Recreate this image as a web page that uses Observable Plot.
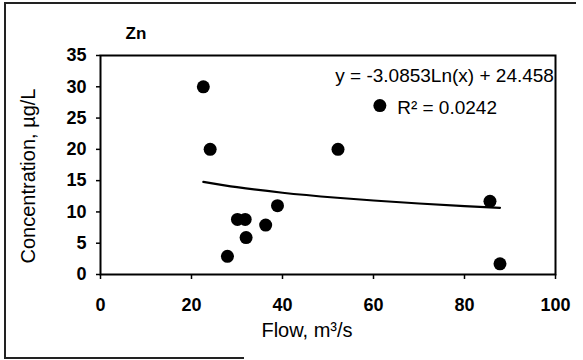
<!DOCTYPE html>
<html>
<head>
<meta charset="utf-8">
<script src="https://cdn.jsdelivr.net/npm/d3@7"></script>
<script src="https://cdn.jsdelivr.net/npm/@observablehq/plot@0.6"></script>
<style>
  html, body { margin: 0; padding: 0; background: #fff; }
  #wrap { position: relative; width: 583px; height: 360px; overflow: hidden; background: #fff; }
  #wrap svg { position: absolute; left: 0; top: 0; }
  .edge { position: absolute; background: #222; }
</style>
</head>
<body>
<div id="wrap">
  <div class="edge" style="left:4px; top:2px; width:572px; height:2px;"></div>
  <div class="edge" style="left:4px; top:2px; width:1.5px; height:356px;"></div>
  <div class="edge" style="left:4px; top:357px; width:240px; height:1.5px;"></div>
</div>
<script>
// Data (Flow in m³/s, Zn concentration in µg/L)
const flow = [22.6, 24.1, 27.9, 30.1, 31.8, 32.0, 36.3, 38.9, 52.2, 61.4, 85.6, 87.8];
const zn   = [30.0, 20.0, 2.9, 8.8, 8.8, 5.9, 7.9, 11.0, 20.0, 27.0, 11.7, 1.7];

// Logarithmic trendline
const trendFlow = [22.6, 30, 40, 52, 60, 70, 80, 87.8];
const trendZn   = [14.8, 13.95, 13.07, 12.27, 11.83, 11.35, 10.94, 10.66];

const xTicks = [0, 20, 40, 60, 80, 100];
const yTicks = [0, 5, 10, 15, 20, 25, 30, 35];

const title = "Zn";
const xLabel = "Flow, m³/s";
const yLabel = "Concentration, µg/L";
const eqText = "y = -3.0853Ln(x) + 24.458";
const r2Text = "R² = 0.0242";

const points = flow.map((f, i) => ({flow: f, zn: zn[i]}));
const trend = trendFlow.map((f, i) => ({flow: f, zn: trendZn[i]}));
const notes = [
  {flow: 51.6, zn: 31.8, text: eqText},
  {flow: 65.2, zn: 26.7, text: r2Text}
];

const font = "'Liberation Sans', Arial, sans-serif";

const chart = Plot.plot({
  width: 583,
  height: 360,
  marginLeft: 100,
  marginRight: 28,
  marginTop: 55,
  marginBottom: 86,
  style: {fontFamily: font, fontSize: "18px", color: "#000", background: "transparent", overflow: "visible"},
  x: {domain: [0, 100]},
  y: {domain: [0, 35]},
  marks: [
    Plot.frame({stroke: "#000", strokeWidth: 2}),
    Plot.axisX(xTicks, {tickSize: 5, tickPadding: 19, fontWeight: "bold", fontSize: 18, label: null, strokeWidth: 1.5}),
    Plot.axisY(yTicks, {tickSize: 4, tickPadding: 10, fontWeight: "bold", fontSize: 18, label: null, strokeWidth: 1.5}),
    Plot.line(trend, {x: "flow", y: "zn", stroke: "#000", strokeWidth: 2.2, curve: "monotone-x"}),
    Plot.dot(points, {x: "flow", y: "zn", r: 6.5, fill: "#000", stroke: "none"}),
    Plot.text(notes, {x: "flow", y: "zn", text: "text", textAnchor: "start", fontSize: 19, fill: "#000"}),
    Plot.text([title], {frameAnchor: "top-left", dx: 25, dy: -22, textAnchor: "start", lineAnchor: "middle", fontWeight: "bold", fontSize: 17, fill: "#000"}),
    Plot.text([xLabel], {frameAnchor: "bottom", dx: -21, dy: 56, textAnchor: "middle", lineAnchor: "middle", fontSize: 20, fill: "#000"}),
    Plot.text([yLabel], {frameAnchor: "left", dx: -72, dy: 11, rotate: -90, textAnchor: "middle", lineAnchor: "middle", fontSize: 20, fill: "#000"})
  ]
});
document.getElementById("wrap").appendChild(chart);
</script>
</body>
</html>
